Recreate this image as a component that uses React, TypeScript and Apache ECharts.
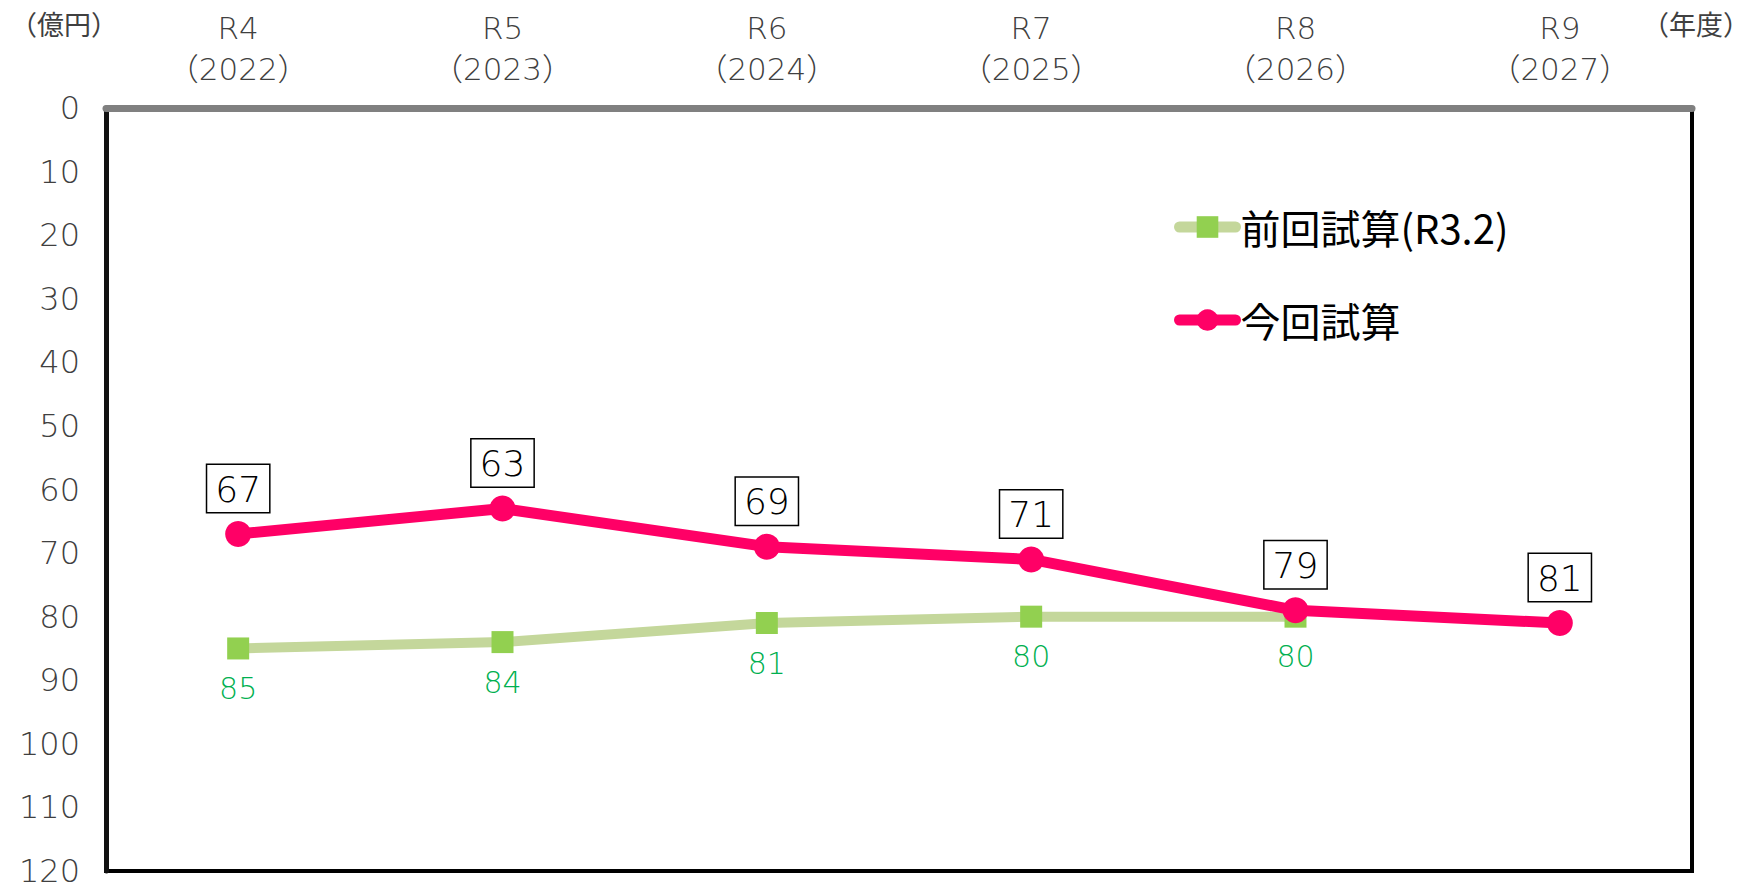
import React, { useEffect, useRef } from "react";
import * as echarts from "echarts";

const categories = ["R4\n（2022）", "R5\n（2023）", "R6\n（2024）", "R7\n（2025）", "R8\n（2026）", "R9\n（2027）"];
const previousName = "前回試算(R3.2)";
const currentName = "今回試算";
const previousValues: (number | null)[] = [85, 84, 81, 80, 80, null];
const currentValues: number[] = [67, 63, 69, 71, 79, 81];
const yMin = 0;
const yMax = 120;
const yInterval = 10;
const yUnit = "（億円）";
const xUnit = "（年度）";

const FONT = "'DejaVu Sans', 'Noto Sans CJK JP', sans-serif";
const CJK = "'Noto Sans CJK JP', sans-serif";

export default function App() {
  const ref = useRef<HTMLDivElement>(null);
  useEffect(() => {
    document.body.style.margin = "0";
    const chart = echarts.init(ref.current!, undefined, { renderer: "svg" });
    chart.setOption({
      animation: false,
      backgroundColor: "#fff",
      textStyle: { fontFamily: FONT },
      grid: {
        left: 106,
        top: 108,
        right: 62,
        bottom: 15,
        show: true,
        borderColor: "#000",
        borderWidth: 4,
        backgroundColor: "transparent",
      },
      legend: {
        orient: "vertical",
        left: 1169,
        top: 202,
        itemWidth: 56,
        itemHeight: 27,
        itemGap: 53,
        data: [previousName, currentName],
        textStyle: { fontSize: 40, color: "#000", fontFamily: CJK },
        lineStyle: { width: 11, cap: "round" },
      },
      xAxis: {
        type: "category",
        position: "top",
        data: categories,
        boundaryGap: true,
        z: 5,
        axisLine: { show: true, lineStyle: { color: "#808080", width: 7 } },
        axisTick: { show: false },
        splitLine: { show: false },
        axisLabel: {
          color: "#404040",
          fontSize: 31,
          fontWeight: 300,
          lineHeight: 41,
          margin: 19,
          fontFamily: FONT,
        },
      },
      yAxis: {
        type: "value",
        inverse: true,
        min: yMin,
        max: yMax,
        interval: yInterval,
        z: 5,
        axisLine: { show: true, lineStyle: { color: "#111", width: 5 } },
        axisTick: { show: false },
        splitLine: { show: false },
        axisLabel: {
          color: "#404040",
          fontSize: 32,
          fontWeight: 300,
          margin: 26,
          fontFamily: FONT,
        },
      },
      graphic: [
        {
          type: "text",
          left: 10,
          top: 10,
          style: { text: yUnit, fontSize: 27, fill: "#404040", fontFamily: CJK },
        },
        {
          type: "text",
          left: 1642,
          top: 10,
          style: { text: xUnit, fontSize: 27, fill: "#404040", fontFamily: CJK },
        },
      ],
      series: [
        {
          name: previousName,
          type: "line",
          data: previousValues,
          z: 2,
          symbol: "rect",
          symbolSize: 22,
          lineStyle: { color: "#c4d79b", width: 10 },
          itemStyle: { color: "#92d050" },
          label: {
            show: true,
            position: "bottom",
            distance: 14,
            color: "#00b050",
            fontSize: 30,
            fontWeight: 300,
            fontFamily: FONT,
          },
        },
        {
          name: currentName,
          type: "line",
          data: currentValues,
          z: 3,
          symbol: "circle",
          symbolSize: 26,
          lineStyle: { color: "#ff0066", width: 11 },
          itemStyle: { color: "#ff0066" },
          label: {
            show: true,
            position: "top",
            distance: 9,
            color: "#000",
            fontSize: 36,
            fontWeight: 300,
            fontFamily: FONT,
            backgroundColor: "#fff",
            borderColor: "#000",
            borderWidth: 1.5,
            padding: [6, 8, 5, 8],
          },
        },
      ],
    });
    return () => chart.dispose();
  }, []);
  return <div ref={ref} style={{ width: 1754, height: 887 }} />;
}
